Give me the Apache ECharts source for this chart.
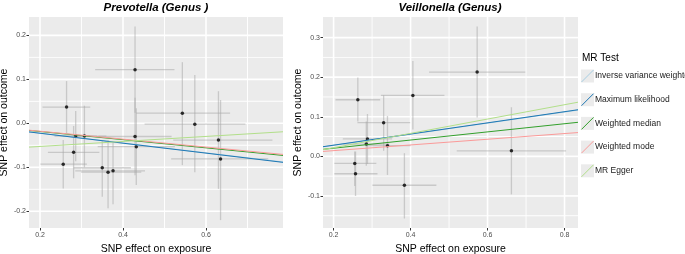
<!DOCTYPE html>
<html>
<head>
<meta charset="utf-8">
<script src="https://cdn.jsdelivr.net/npm/echarts@6/dist/echarts.min.js"></script>
<style>
  html, body { margin: 0; padding: 0; background: #fff; }
  #chart { width: 685px; height: 254px; }
</style>
</head>
<body>
<div id="chart"></div>
<script>
// ---- Prevotella (Genus ) ----
var prevX    = [0.264, 0.286, 0.307, 0.281, 0.256, 0.350, 0.364, 0.376, 0.429, 0.429, 0.432, 0.543, 0.573, 0.630, 0.635];
var prevY    = [0.037, -0.029, -0.029, -0.066, -0.093, -0.101, -0.111, -0.108, 0.122, -0.030, -0.053, 0.023, -0.002, -0.038, -0.081];
var prevXLo  = [0.206, 0.235, 0.255, 0.219, 0.201, 0.281, 0.299, 0.285, 0.333, 0.341, 0.339, 0.432, 0.452, 0.521, 0.516];
var prevXHi  = [0.321, 0.337, 0.360, 0.343, 0.313, 0.419, 0.444, 0.453, 0.524, 0.517, 0.525, 0.658, 0.695, 0.760, 0.750];
var prevYLo  = [-0.022, -0.086, -0.100, -0.125, -0.148, -0.167, -0.193, -0.184, 0.024, -0.118, -0.140, -0.095, -0.111, -0.149, -0.220];
var prevYHi  = [0.096, 0.028, 0.040, -0.006, -0.038, -0.039, -0.038, -0.042, 0.220, 0.058, 0.034, 0.139, 0.110, 0.073, 0.053];

// ---- Veillonella (Genus) ----
var veilX    = [0.263, 0.288, 0.285, 0.255, 0.257, 0.330, 0.340, 0.406, 0.384, 0.573, 0.662];
var veilY    = [0.143, 0.044, 0.031, -0.018, -0.044, 0.085, 0.027, 0.154, -0.073, 0.213, 0.014];
var veilXLo  = [0.205, 0.224, 0.225, 0.202, 0.202, 0.262, 0.285, 0.323, 0.301, 0.448, 0.520];
var veilXHi  = [0.321, 0.352, 0.345, 0.311, 0.314, 0.399, 0.400, 0.488, 0.467, 0.698, 0.804];
var veilYLo  = [0.088, -0.019, -0.024, -0.075, -0.100, 0.014, -0.047, 0.068, -0.157, 0.098, -0.096];
var veilYHi  = [0.199, 0.107, 0.088, 0.012, 0.012, 0.154, 0.102, 0.241, 0.008, 0.328, 0.124];

// MR methods: slope / intercept per panel
var methods     = ['Inverse variance weighted', 'Maximum likelihood', 'Weighted median', 'Weighted mode', 'MR Egger'];
var methodColor = ['#A6CEE3', '#1F78B4', '#33A02C', '#FB9A99', '#B2DF8A'];
var prevSlope   = [-0.112, -0.113, -0.093, -0.090, 0.057];
var prevInt     = [0, 0, 0, 0, -0.064];
var veilSlope   = [0.140, 0.141, 0.103, 0.072, 0.181];
var veilInt     = [0, 0, 0, 0, -0.0144];

// axis ranges and ticks
var prevXRange = [0.1735, 0.7855], prevYRange = [-0.238, 0.2417];
var veilXRange = [0.1725, 0.835],  veilYRange = [-0.181, 0.352];
var prevXTicks = [0.2, 0.4, 0.6], prevXMinor = [0.3, 0.5, 0.7];
var prevYTicks = [-0.2, -0.1, 0, 0.1, 0.2], prevYMinor = [-0.15, -0.05, 0.05, 0.15];
var veilXTicks = [0.2, 0.4, 0.6, 0.8], veilXMinor = [0.3, 0.5, 0.7];
var veilYTicks = [-0.1, 0, 0.1, 0.2, 0.3], veilYMinor = [-0.15, -0.05, 0.05, 0.15, 0.25];

var font = 'Liberation Sans, Arial, sans-serif';
var myChart = echarts.init(document.getElementById('chart'), null, { renderer: 'canvas' });

function zip(a, b, c, d, e, f) {
  return a.map(function (v, i) { return [v, b[i], c[i], d[i], e[i], f[i]]; });
}

function errorBars(params, api) {
  var y = api.value(1), x = api.value(0);
  var a = api.coord([api.value(2), y]), b = api.coord([api.value(3), y]);
  var c = api.coord([x, api.value(4)]), d = api.coord([x, api.value(5)]);
  var st = { stroke: 'rgba(165,165,165,0.5)', lineWidth: 1.3 };
  return {
    type: 'group',
    children: [
      { type: 'line', shape: { x1: a[0], y1: a[1], x2: b[0], y2: b[1] }, style: st },
      { type: 'line', shape: { x1: c[0], y1: c[1], x2: d[0], y2: d[1] }, style: st }
    ]
  };
}

// panel boundaries: range edges + grid lines with their (gap) widths
function bounds(range, major, minor) {
  var b = [{ v: range[0], w: 0 }, { v: range[1], w: 0 }];
  major.forEach(function (v) { b.push({ v: v, w: 1.6 }); });
  minor.forEach(function (v) { b.push({ v: v, w: 0.9 }); });
  return b.sort(function (p, q) { return p.v - q.v; });
}

// grey panel drawn as tiles; the white gaps between tiles are the grid lines
function panel(idx, xr, yr, xMaj, xMin, yMaj, yMin) {
  var xb = bounds(xr, xMaj, xMin), yb = bounds(yr, yMaj, yMin);
  var cells = [];
  for (var i = 0; i < xb.length - 1; i++) {
    for (var j = 0; j < yb.length - 1; j++) cells.push([i, j]);
  }
  return {
    type: 'custom', xAxisIndex: idx, yAxisIndex: idx, silent: true, z: 1,
    data: cells,
    renderItem: function (params, api) {
      var i = api.value(0), j = api.value(1);
      var x0 = api.coord([xb[i].v, yr[0]])[0] + xb[i].w / 2;
      var x1 = api.coord([xb[i + 1].v, yr[0]])[0] - xb[i + 1].w / 2;
      var y0 = api.coord([xr[0], yb[j + 1].v])[1] + yb[j + 1].w / 2;
      var y1 = api.coord([xr[0], yb[j].v])[1] - yb[j].w / 2;
      return { type: 'rect', shape: { x: x0, y: y0, width: x1 - x0, height: y1 - y0 },
        style: { fill: '#EBEBEB', stroke: null, lineWidth: 0 } };
    }
  };
}

function fitLines(idx, slopes, ints, xr) {
  return methods.map(function (m, i) {
    return {
      name: m, type: 'line', xAxisIndex: idx, yAxisIndex: idx, z: 6,
      showSymbol: false, symbol: 'none', silent: true,
      color: methodColor[i],
      lineStyle: { width: 1, color: methodColor[i] },
      data: [[xr[0], ints[i] + slopes[i] * xr[0]], [xr[1], ints[i] + slopes[i] * xr[1]]]
    };
  });
}

function xAxis(idx, range, ticks) {
  return {
    type: 'value', gridIndex: idx, min: range[0], max: range[1],
    name: 'SNP effect on exposure', nameLocation: 'middle', nameGap: 14,
    nameTextStyle: { fontFamily: font, fontSize: 10.5, color: '#000' },
    axisLine: { show: false, onZero: false },
    axisTick: { show: true, length: 2.5, customValues: ticks, lineStyle: { color: '#333' } },
    axisLabel: { customValues: ticks, fontFamily: font, fontSize: 7, color: '#4D4D4D', margin: 4,
      formatter: function (v) { return v.toFixed(1); } },
    splitLine: { show: false }
  };
}

function yAxis(idx, range, ticks) {
  return {
    type: 'value', gridIndex: idx, min: range[0], max: range[1],
    name: 'SNP effect on outcome', nameLocation: 'middle', nameGap: 19,
    nameTextStyle: { fontFamily: font, fontSize: 10.5, color: '#000' },
    axisLine: { show: false, onZero: false },
    axisTick: { show: true, length: 2.5, customValues: ticks, lineStyle: { color: '#333' } },
    axisLabel: { customValues: ticks, fontFamily: font, fontSize: 7, color: '#4D4D4D', margin: 3,
      formatter: function (v) { return v.toFixed(1); } },
    splitLine: { show: false }
  };
}

// legend keys: grey box with a diagonal line in the method colour
var keys = [];
methods.forEach(function (m, i) {
  var t = 69.5 + i * 23.7;
  keys.push({ type: 'rect', left: 581, top: t, shape: { width: 13, height: 13 }, style: { fill: '#EBEBEB' } });
  keys.push({ type: 'line', shape: { x1: 581.5, y1: t + 12.5, x2: 593.5, y2: t + 0.5 },
    style: { stroke: methodColor[i], lineWidth: 1 } });
});

var titleStyle = { fontFamily: font, fontSize: 11.5, fontWeight: 'bold', fontStyle: 'italic', color: '#000' };

var option = {
  animation: false,
  backgroundColor: '#ffffff',
  title: [
    { text: 'Prevotella (Genus )', left: 156, top: 2, padding: 0, textAlign: 'center', textStyle: titleStyle },
    { text: 'Veillonella (Genus)', left: 450, top: 2, padding: 0, textAlign: 'center', textStyle: titleStyle },
    { text: 'MR Test', left: 582, top: 53, padding: 0,
      textStyle: { fontFamily: font, fontSize: 10, fontWeight: 'normal', color: '#000' } }
  ],
  graphic: keys,
  legend: {
    orient: 'vertical', left: 589, top: 69.5, padding: 0, itemWidth: 1, itemHeight: 13, itemGap: 10.7,
    data: methods, icon: 'rect', itemStyle: { opacity: 0 },
    textStyle: { fontFamily: font, fontSize: 8.5, color: '#1A1A1A' },
    selectedMode: false
  },
  grid: [
    { left: 29, top: 17, width: 254, height: 211, show: false, outerBoundsMode: 'none', containLabel: false },
    { left: 323, top: 17, width: 255, height: 211, show: false, outerBoundsMode: 'none', containLabel: false }
  ],
  xAxis: [xAxis(0, prevXRange, prevXTicks), xAxis(1, veilXRange, veilXTicks)],
  yAxis: [yAxis(0, prevYRange, prevYTicks), yAxis(1, veilYRange, veilYTicks)],
  series: [
    panel(0, prevXRange, prevYRange, prevXTicks, prevXMinor, prevYTicks, prevYMinor),
    panel(1, veilXRange, veilYRange, veilXTicks, veilXMinor, veilYTicks, veilYMinor),
    { type: 'custom', xAxisIndex: 0, yAxisIndex: 0, z: 3, silent: true, renderItem: errorBars,
      data: zip(prevX, prevY, prevXLo, prevXHi, prevYLo, prevYHi) },
    { type: 'custom', xAxisIndex: 1, yAxisIndex: 1, z: 3, silent: true, renderItem: errorBars,
      data: zip(veilX, veilY, veilXLo, veilXHi, veilYLo, veilYHi) },
    { type: 'scatter', xAxisIndex: 0, yAxisIndex: 0, z: 4, symbolSize: 3.5, itemStyle: { color: '#000' },
      data: prevX.map(function (v, i) { return [v, prevY[i]]; }) },
    { type: 'scatter', xAxisIndex: 1, yAxisIndex: 1, z: 4, symbolSize: 3.5, itemStyle: { color: '#000' },
      data: veilX.map(function (v, i) { return [v, veilY[i]]; }) }
  ].concat(fitLines(0, prevSlope, prevInt, prevXRange), fitLines(1, veilSlope, veilInt, veilXRange))
};

myChart.setOption(option);
</script>
</body>
</html>
